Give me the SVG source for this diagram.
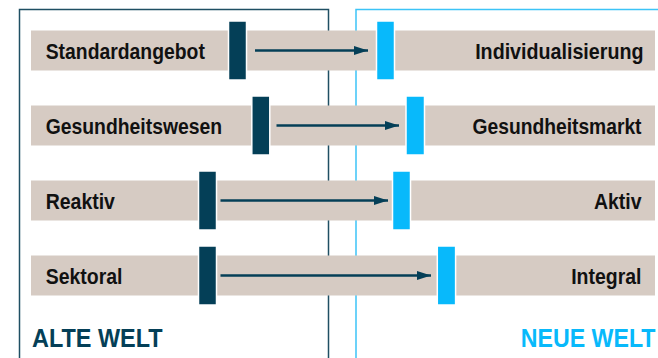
<svg xmlns="http://www.w3.org/2000/svg" width="658" height="358" viewBox="0 0 658 358">
  <defs>
    <style>
      .bar { fill: #d6cbc3; }
      .old { fill: #043f57; stroke: #ffffff; stroke-width: 1.5; }
      .new { fill: #08b9fb; stroke: #ffffff; stroke-width: 1.5; }
      .lbl { font-family: "Liberation Sans", Arial, sans-serif; font-weight: bold; font-size: 22px; fill: #111111; }
      .end { text-anchor: end; }
      .arrow { stroke: #043f57; stroke-width: 2.5; fill: none; marker-end: url(#head); }
      .title { font-family: "Liberation Sans", Arial, sans-serif; font-weight: bold; font-size: 26.5px; }
    </style>
    <marker id="head" markerUnits="userSpaceOnUse" markerWidth="15" markerHeight="10" refX="14" refY="4.5" orient="auto">
      <path d="M0,0 L14,4.5 L0,9 Z" fill="#043f57"/>
    </marker>
  </defs>

  <!-- two world frames; condensed type via horizontal scale -->
  <g id="frame-alt">
    <rect x="19.5" y="9.5" width="309" height="370" fill="none" stroke="#1f4f63" stroke-width="1.5"/>
    <text class="title" transform="translate(32,347) scale(0.885,1)" fill="#043f57">ALTE WELT</text>
  </g>
  <g id="frame-neu">
    <rect x="356" y="9.5" width="330" height="370" fill="none" stroke="#3cc4f7" stroke-width="1.5"/>
    <text class="title" transform="translate(655.5,347) scale(0.875,1)" fill="#08b9fb" text-anchor="end">NEUE WELT</text>
  </g>

  <!-- rows: bar and both labels -->
  <g id="row-angebot">
    <rect class="bar" x="31" y="30.5" width="624" height="40"/>
    <text class="lbl" transform="translate(45.7,58.5) scale(0.88,1)">Standardangebot</text>
    <text class="lbl end" transform="translate(643.5,58.5) scale(0.895,1)">Individualisierung</text>
  </g>
  <g id="row-markt">
    <rect class="bar" x="31" y="105.5" width="624" height="40"/>
    <text class="lbl" transform="translate(45.7,133.5) scale(0.88,1)">Gesundheitswesen</text>
    <text class="lbl end" transform="translate(641.5,133.5) scale(0.875,1)">Gesundheitsmarkt</text>
  </g>
  <g id="row-aktiv">
    <rect class="bar" x="31" y="180.5" width="624" height="40"/>
    <text class="lbl" transform="translate(45.7,208.5) scale(0.885,1)">Reaktiv</text>
    <text class="lbl end" transform="translate(641.5,208.5) scale(0.885,1)">Aktiv</text>
  </g>
  <g id="row-integral">
    <rect class="bar" x="31" y="255.5" width="624" height="40"/>
    <text class="lbl" transform="translate(45.7,283.5) scale(0.885,1)">Sektoral</text>
    <text class="lbl end" transform="translate(641.5,283.5) scale(0.885,1)">Integral</text>
  </g>

  <!-- arrows between old and new positions -->
  <g id="connectors">
    <line class="arrow" x1="255" y1="50.5" x2="368" y2="50.5"/>
    <line class="arrow" x1="276.5" y1="125.5" x2="399" y2="125.5"/>
    <line class="arrow" x1="220.5" y1="200.5" x2="388" y2="200.5"/>
    <line class="arrow" x1="220.5" y1="275.5" x2="431" y2="275.5"/>
  </g>

  <g id="markers-alt">
    <rect class="old" x="228.5" y="21" width="18" height="59"/>
    <rect class="old" x="251.8" y="96" width="18" height="59"/>
    <rect class="old" x="198.5" y="171" width="18" height="59"/>
    <rect class="old" x="198.5" y="246" width="18" height="59"/>
  </g>
  <g id="markers-neu">
    <rect class="new" x="376.5" y="21" width="18" height="59"/>
    <rect class="new" x="406" y="96" width="18.5" height="59"/>
    <rect class="new" x="392.5" y="171" width="18" height="59"/>
    <rect class="new" x="437.3" y="246" width="18.3" height="59"/>
  </g>
</svg>
